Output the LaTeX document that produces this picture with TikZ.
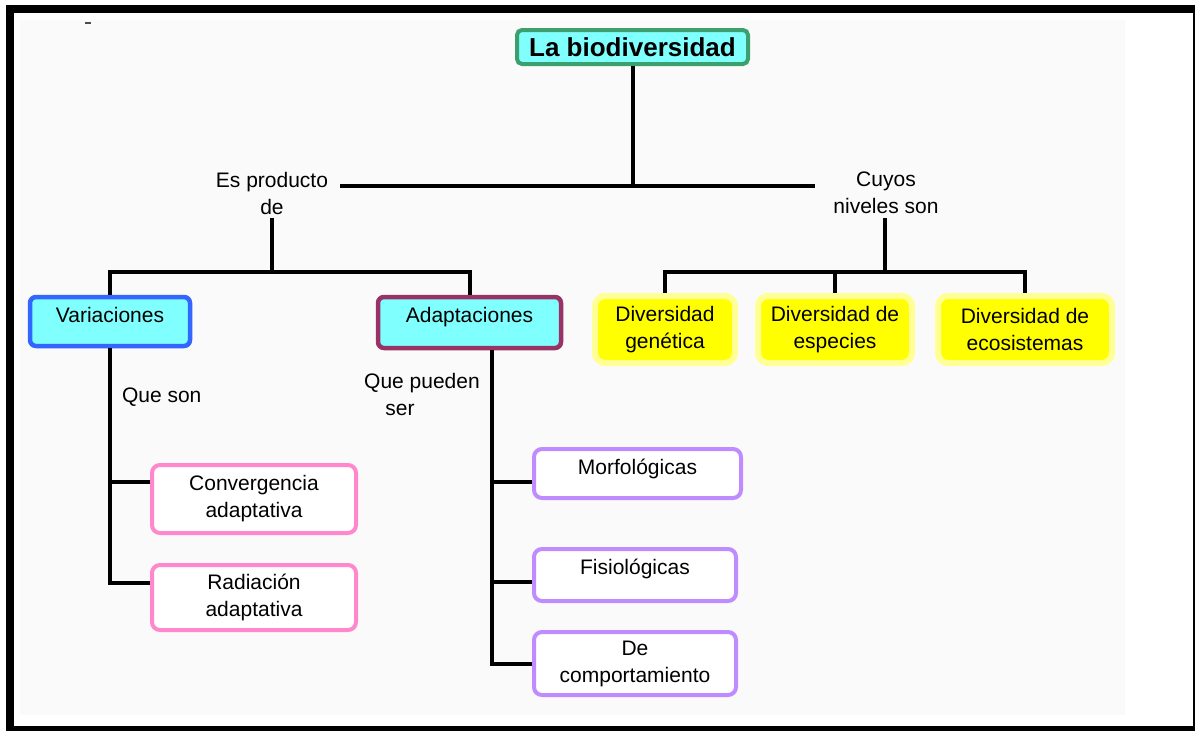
\documentclass[tikz,border=0pt]{standalone}
\usepackage{fontspec}
\setmainfont{Liberation Sans}
\definecolor{titlegreen}{RGB}{60,160,110}
\definecolor{skyfill}{RGB}{128,255,255}
\definecolor{varblue}{RGB}{51,102,255}
\definecolor{adapplum}{RGB}{153,51,102}
\definecolor{lemon}{RGB}{255,255,0}
\definecolor{lemonedge}{RGB}{255,255,150}
\definecolor{rosa}{RGB}{255,136,204}
\definecolor{lila}{RGB}{190,140,255}

\begin{document}
\begin{tikzpicture}[x=1pt, y=-1pt, font=\fontsize{21}{27}\selectfont, line width=4pt,
topic/.style={draw=titlegreen, fill=skyfill, rounded corners=5pt, font=\fontsize{26}{30}\selectfont\bfseries, minimum width=231pt, minimum height=34pt, inner sep=0pt},
sky/.style={fill=skyfill, line width=4.5pt, rounded corners=6pt, inner sep=0pt, anchor=base, text height=25pt},
ybox/.style={draw=lemonedge, fill=lemon, line width=6pt, rounded corners=10pt, align=center, minimum height=67pt, inner sep=0pt},
pink/.style={draw=rosa, fill=white, rounded corners=8pt, align=center, minimum width=204pt, inner sep=0pt},
lilac/.style={draw=lila, fill=white, rounded corners=8pt, align=center, inner sep=0pt},
lbl/.style={align=center, inner sep=2pt}]
\useasboundingbox (0,0) rectangle (1195,731);
\fill[black!2] (20,20) rectangle (1125,715);
\draw[line width=8pt] (10,9) rectangle (1197,730);
\draw[line width=2pt, black!70] (85,23) -- (91,23);

\node[topic] (bio) at (632.5,47) {La biodiversidad};
\coordinate (hubL) at (340,186);
\coordinate (hubR) at (815,186);
\node[lbl] (prod) at (272,193) {Es producto\\de};
\node[lbl] (niv) at (886,193) {Cuyos\\niveles son};
\coordinate (barL) at (272,272);
\coordinate (barR) at (885,272);

\node[sky, draw=varblue, minimum width=160pt, text depth=24pt] (var) at (110,322) {Variaciones};
\node[sky, draw=adapplum, minimum width=183pt, text depth=26pt] (adap) at (469.5,322) {Adaptaciones};

\node[ybox, minimum width=140pt] (gen) at (665,329.5) {Diversidad\\genética};
\node[ybox, minimum width=154pt] (esp) at (835,329.5) {Diversidad de\\especies};
\node[ybox, minimum width=174pt] (eco) at (1025,329.5) {Diversidad de\\ecosistemas};

\node[lbl, anchor=west] (qson) at (118,397) {Que son};
\node[lbl] (qpue) at (422,394) {Que pueden\\ser\hspace*{44pt}};

\node[pink, minimum height=68pt] (conv) at (254,499) {Convergencia\\adaptativa};
\node[pink, minimum height=65pt] (rad) at (254,597.5) {Radiación\\adaptativa};

\node[lilac, minimum width=207pt, anchor=base, text height=25pt, text depth=24pt] (morf) at (637.5,474) {Morfológicas};
\node[lilac, minimum width=202pt, anchor=base, text height=25pt, text depth=27pt] (fis) at (635,574) {Fisiológicas};
\node[lilac, minimum width=202pt, minimum height=63pt] (comp) at (635,663.5) {De\\comportamiento};

% top level
\draw (bio) -- (bio.south |- hubL);
\draw (hubL) -- (hubR);
\draw (prod) -- (barL);
\draw (niv.south -| barR) -- (barR);
\draw (var.north) |- (barL) -| (adap.north);
\draw (gen.north) |- (barR) -| (eco.north);
\draw (esp.north) -- (esp.north |- barR);

% variaciones
\coordinate (cB) at ([yshift=17pt]conv.west);
\coordinate (rB) at ([yshift=15pt]rad.west);
\draw (var.south) |- (rB);
\draw (cB) -- (cB -| var.south);

% adaptaciones
\coordinate (aT) at ([xshift=22pt]adap.south);
\coordinate (mB) at ([yshift=-8pt]morf.west);
\coordinate (fB) at ([yshift=-7pt]fis.west);
\draw (aT) |- (comp.west);
\draw (mB) -- (mB -| aT);
\draw (fB) -- (fB -| aT);
\end{tikzpicture}
\end{document}
